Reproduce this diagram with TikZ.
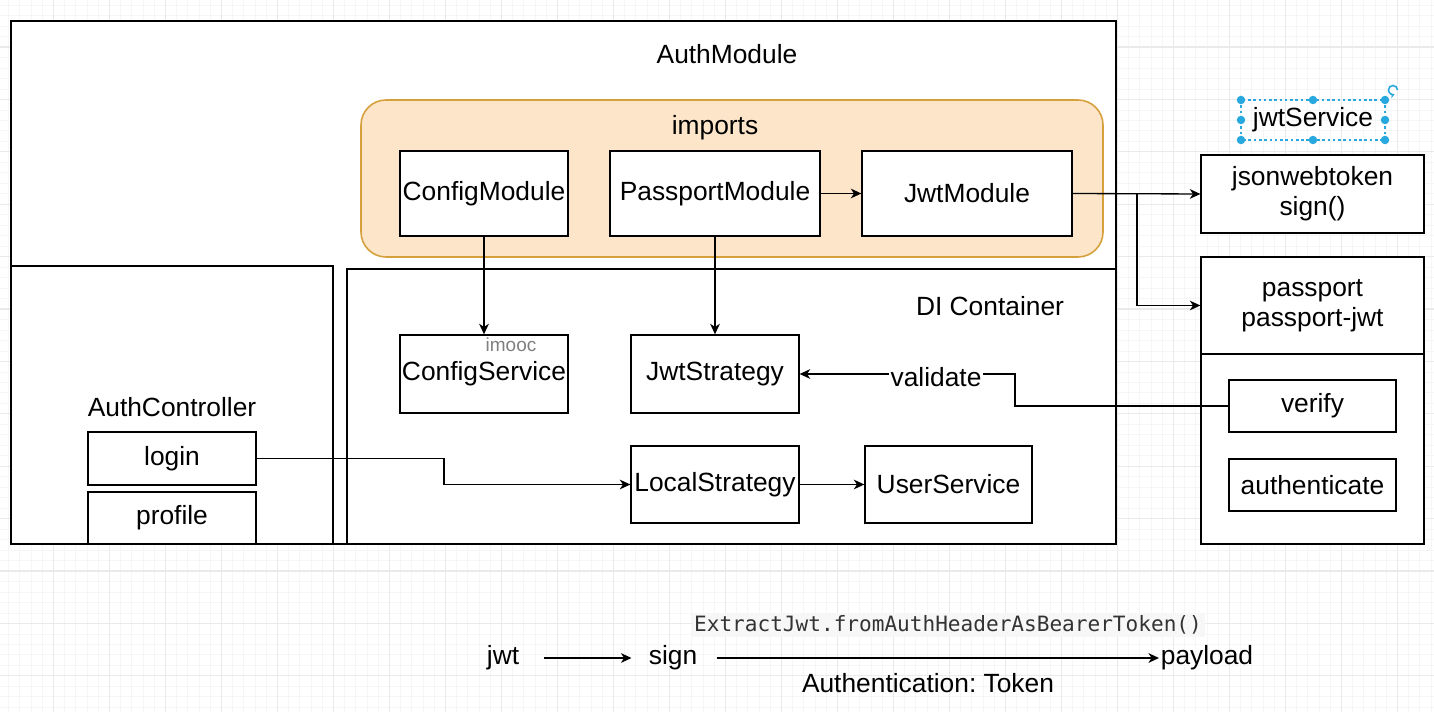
\documentclass[tikz,border=0pt]{standalone}
\usepackage{fontspec}
\setmainfont{Liberation Sans}
\setmonofont{DejaVu Sans Mono}
\usetikzlibrary{arrows.meta,fit,calc}
\definecolor{impfill}{RGB}{252,229,200}
\definecolor{impdraw}{RGB}{214,160,60}
\definecolor{selblue}{RGB}{41,168,224}
\definecolor{gridmaj}{RGB}{234,234,234}
\definecolor{gridmin}{RGB}{246,246,246}
\newcommand\mainsz{\fontsize{15}{17}\selectfont}
\newcommand\smallsz{\fontsize{10.8}{12}\selectfont}
\newcommand\monosz{\ttfamily\fontsize{12}{14}\selectfont}
\frenchspacing
\tikzset{
  box/.style={draw, line width=0.75pt, fill=white, inner sep=0pt, font=\mainsz, align=center},
  lbl/.style={font=\mainsz, inner sep=0pt, align=center},
  impbox/.style={draw=impdraw, fill=impfill, line width=0.9pt, rounded corners=0.5cm, inner sep=0pt},
  arr/.style={-{Stealth[length=6pt,width=5.5pt,inset=1.8pt]}, line width=0.75pt},
  selline/.style={draw=selblue, dash pattern=on 1.5pt off 1.5pt, line width=0.6pt},
  seldot/.style={fill=selblue},
}
\begin{document}
\begin{tikzpicture}[x=0.02cm,y=-0.02cm]
\useasboundingbox (0,0) rectangle (1434,712);
\fill[white] (0,0) rectangle (1434,712);
% background grid
\foreach \i in {0,...,130} {\draw[gridmin, line width=0.4pt] ({-2.7+\i*11.2},0) -- ({-2.7+\i*11.2},712);}
\foreach \j in {0,...,70} {\draw[gridmin, line width=0.4pt] (0,{-5.4+\j*10.48}) -- (1434,{-5.4+\j*10.48});}
\foreach \i in {1,...,26} {\draw[gridmaj, line width=0.6pt] ({-2.7+\i*56},0) -- ({-2.7+\i*56},712);}
\foreach \j in {0,...,13} {\draw[gridmaj, line width=0.6pt] (0,{47+\j*52.4}) -- (1434,{47+\j*52.4});}

% AuthModule
\node[box, fit={(11,21)(1116,544)}] (authmod) {};
\node[lbl] (authmodlbl) at (727,54) {AuthModule};
\node[impbox, fit={(361,100)(1103,257)}] (imports) {};
\node[lbl] (importslbl) at (715,128) {imports};
\node[box, minimum width=3.36cm, minimum height=1.7cm] (cfgm) at (484,193.5) {ConfigModule};
\node[box, minimum width=4.2cm, minimum height=1.7cm] (ppm) at (715,193.5) {PassportModule};
\node[box, minimum width=4.2cm, minimum height=1.7cm] (jwtm) at (967,193.5) {JwtModule};

% AuthController
\node[box, fit={(11,266)(333,544)}] (ctrl) {};
\node[lbl] (ctrllbl) at (172,407) {AuthController};
\node[box, minimum width=3.36cm, minimum height=1.06cm] (login) at (172,458.5) {login};
\node[box, minimum width=3.36cm, minimum height=1.04cm] (profile) at (172,518) {profile};

% DI Container
\node[box, fit={(347,269)(1116,544)}] (di) {};
\node[lbl] (dilbl) at (990,306) {DI Container};
\node[box, minimum width=3.36cm, minimum height=1.56cm] (cfgs) at (484,374) {ConfigService};
\node[font=\smallsz, text=gray, inner sep=0pt] (imooc) at (511,345) {imooc};
\node[box, minimum width=3.36cm, minimum height=1.56cm] (jwts) at (715,374) {JwtStrategy};
\node[box, minimum width=3.36cm, minimum height=1.54cm] (local) at (715,484.5) {LocalStrategy};
\node[box, minimum width=3.34cm, minimum height=1.54cm] (users) at (948.5,484.5) {UserService};

% right side
\node[lbl] (jwtsvc) at (1313,120) {jwtService};
\draw[selline] (1241,100) rectangle (1385,140);
\foreach \p in {(1241,100),(1313,100),(1385,100),(1241,120),(1385,120),(1241,140),(1313,140),(1385,140)} {\fill[seldot] \p circle[radius=0.085cm];}
\draw[selblue, line width=0.9pt, -{Stealth[length=2.5pt,width=3pt]}] (1393,90) ++(0.09cm,0) arc[start angle=0, end angle=290, radius=0.09cm];
\node[box, minimum width=4.46cm, minimum height=1.56cm] (jsonw) at (1312.5,194) {jsonwebtoken\\sign()};
\node[box, fit={(1201,257)(1424,544)}] (pp) {};
\node[box, minimum width=4.46cm, minimum height=1.94cm] (pphead) at (1312.5,305.5) {passport\\passport-jwt};
\node[box, minimum width=3.34cm, minimum height=1.04cm] (verify) at (1312.5,406) {verify};
\node[box, minimum width=3.34cm, minimum height=1.04cm] (authn) at (1312.5,485) {authenticate};

% connectors
\coordinate (branch) at (1137,194);
\coordinate (vbend) at (1015,390);
\coordinate (lbend) at (444,470);
\draw[arr] (cfgm.south) -- (cfgs.north);
\draw[arr] (ppm.south) -- (jwts.north);
\draw[arr] (ppm.east) -- (jwtm.west);
\draw[arr] (jwtm.east) -- (jsonw.west);
\draw[arr] (branch) |- (pphead.west);
\draw[arr] (verify.west) -| (vbend) |- (jwts.east);
\node[lbl, fill=white, inner sep=1pt] (validate) at (936,377) {validate};
\draw[arr] (login.east) -| (lbend) |- (local.west);
\draw[arr] (local.east) -- (users.west);

% bottom flow
\node[lbl] (jwt) at (503,658) {jwt};
\node[lbl] (sign) at (673,658) {sign};
\node[lbl] (payload) at (1207,658) {payload};
\draw[arr, shorten <=0.5cm, shorten >=0.34cm] (jwt.east) -- (sign.west |- jwt.east);
\draw[arr, shorten <=0.38cm, shorten >=0.03cm] (sign.east) -- (payload.west |- sign.east);
\node[font=\monosz, text=black!80, fill=gray!6, inner sep=1.5pt] (extract) at (948,625) {ExtractJwt.fromAuthHeaderAsBearerToken()};
\node[lbl] (authtoken) at (928,683) {Authentication: Token};
\end{tikzpicture}
\end{document}
